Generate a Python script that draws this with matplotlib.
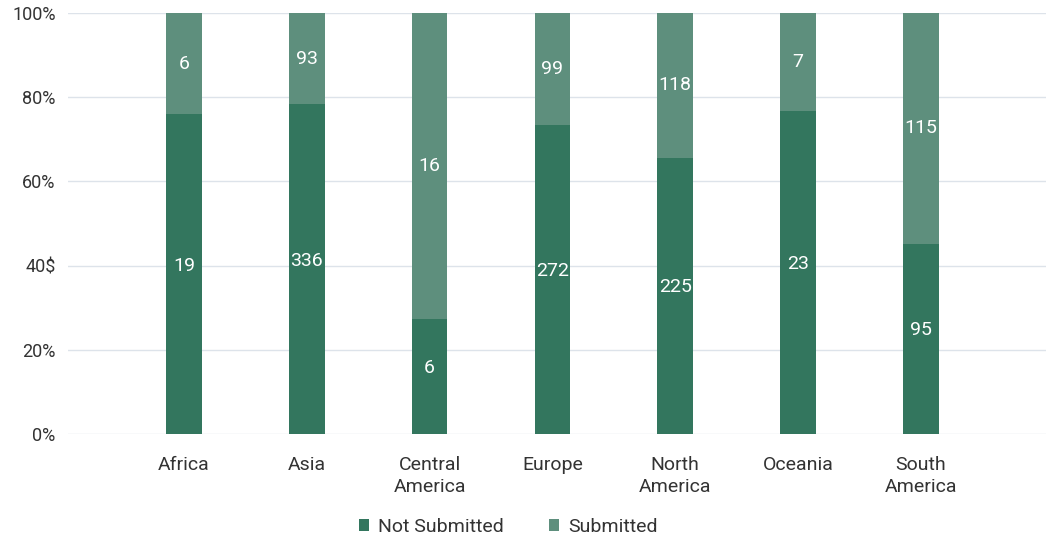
import matplotlib.pyplot as plt
import numpy as np

plt.rcParams['font.family'] = ['Roboto', 'DejaVu Sans']

regions = ['Africa', 'Asia', 'Central\nAmerica', 'Europe', 'North\nAmerica', 'Oceania', 'South\nAmerica']
not_submitted = np.array([19, 336, 6, 272, 225, 23, 95])
submitted = np.array([6, 93, 16, 99, 118, 7, 115])
ytick_labels = ['0%', '20%', '40$', '60%', '80%', '100%']

dark = '#33765e'
light = '#5e8f7d'

total = not_submitted + submitted
pct_ns = not_submitted / total * 100
pct_s = submitted / total * 100

fig = plt.figure(figsize=(10.54, 5.37), dpi=100)
ax = fig.add_axes([68 / 1054, 1 - 434 / 537, (1046 - 68) / 1054, (434 - 13) / 537])

x = np.arange(len(regions))
w = 0.29
ax.bar(x, pct_ns, w, color=dark, label='Not Submitted', zorder=2)
ax.bar(x, pct_s, w, bottom=pct_ns, color=light, label='Submitted', zorder=2)

for i in range(len(regions)):
    ax.text(x[i], pct_ns[i] / 2 + 2, str(not_submitted[i]), ha='center', va='center',
            color='white', fontsize=14)
    ax.text(x[i], pct_ns[i] + pct_s[i] / 2, str(submitted[i]), ha='center', va='center',
            color='white', fontsize=14)

ax.set_xlim(-0.945, 7.02)
ax.set_ylim(0, 100)
ax.set_yticks([0, 20, 40, 60, 80, 100])
ax.set_yticklabels(ytick_labels)
ax.set_xticks(x)
ax.set_xticklabels(regions, linespacing=1.3)
ax.yaxis.grid(True, color='#dde3ea', linewidth=1, zorder=0)
for s in ax.spines.values():
    s.set_visible(False)
ax.tick_params(length=0, labelcolor='#333333')
ax.tick_params(axis='y', pad=9, labelsize=13)
ax.tick_params(axis='x', pad=16, labelsize=14)

ax.legend(loc='lower center', bbox_to_anchor=(0.45, -0.284), ncol=2, frameon=False,
          fontsize=14, handlelength=0.55, handleheight=0.55, handletextpad=0.45,
          columnspacing=2.3, labelcolor='#333333')

fig.savefig('out.png', dpi=100)
